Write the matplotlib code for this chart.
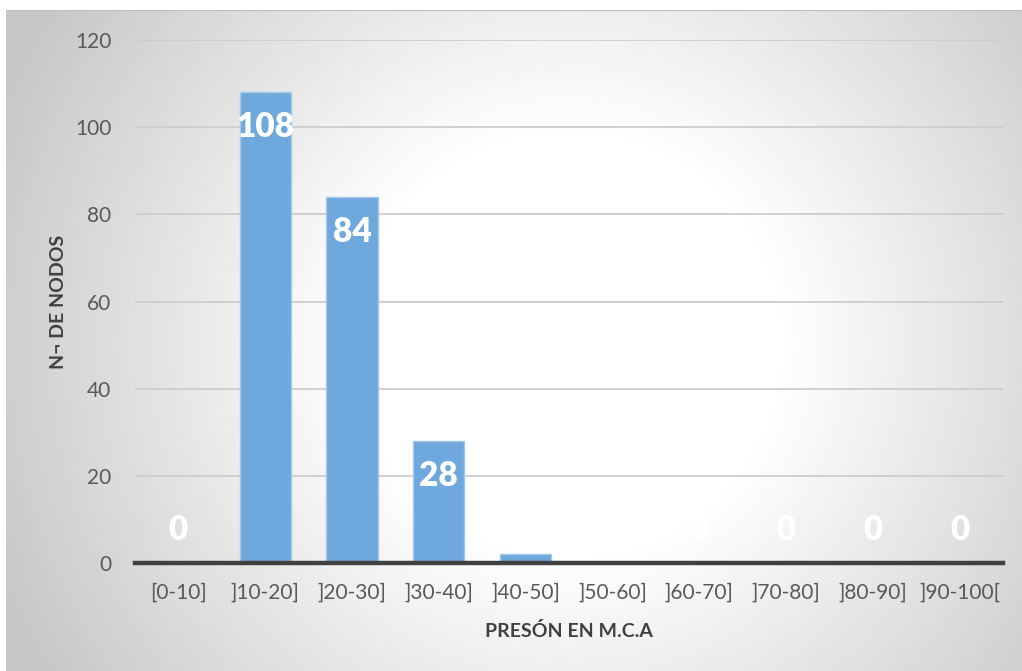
import numpy as np
import matplotlib
matplotlib.use("Agg")
import matplotlib.pyplot as plt

plt.rcParams['font.family'] = ['Lato', 'DejaVu Sans']

categories = ["[0-10]", "]10-20]", "]20-30]", "]30-40]", "]40-50]",
              "]50-60]", "]60-70]", "]70-80]", "]80-90]", "]90-100["]
nodos = [0, 108, 84, 28, 2, 0, 0, 0, 0, 0]
y_ticks = [0, 20, 40, 60, 80, 100, 120]

W, H = 1022, 671
fig = plt.figure(figsize=(W / 100, H / 100), dpi=100, facecolor="white")

# soft radial sheen behind the chart
bg = fig.add_axes([6 / W, 0, (W - 6) / W, (H - 10) / H])
bg.set_axis_off()
px = np.arange(6, W) + 0.5
py = np.arange(10, H) + 0.5
X, Y = np.meshgrid(px, py)
r = np.hypot(X - 568, Y - 345)
shade = 1 - 0.22 * np.clip((r - 208) / 410, 0, 1)
bg.imshow(shade, cmap="gray", vmin=0, vmax=1, aspect="auto",
          interpolation="bilinear", extent=[0, 1, 0, 1], origin="upper")
bg.set_xlim(0, 1)
bg.set_ylim(0, 1)
bg.axhline(1, color="#bdbdbd", lw=1.5)

ax = fig.add_axes([135 / W, 108 / H, (1003 - 135) / W, (563 - 40) / H])
ax.patch.set_alpha(0)
x = np.arange(len(categories))
ax.bar(x, nodos, width=0.59, color="#6fa8dc", edgecolor="#a4c8ea",
       linewidth=1, zorder=3)

ax.set_xlim(-0.5, len(categories) - 0.5)
ax.set_ylim(0, 120)
ax.set_yticks(y_ticks)
ax.set_xticks(x)
ax.set_xticklabels(categories)
ax.tick_params(axis="both", length=0, labelsize=15, colors="#595959")
ax.tick_params(axis="y", pad=17)
ax.tick_params(axis="x", pad=14)
for s in ax.spines.values():
    s.set_visible(False)
ax.yaxis.grid(True, color="#cdcdcd", lw=1.3, zorder=0)
ax.set_axisbelow(True)
ax.axhline(0, color="#404040", lw=3.2, zorder=4, clip_on=False)

px_per_unit = (563 - 40) / 120
for xi, v in zip(x, nodos):
    yc = max(v - 35 / px_per_unit, 33 / px_per_unit)
    ax.text(xi, yc, f"{v}", ha="center", va="center", color="white",
            fontsize=24, fontweight="heavy", zorder=5)

ax.set_xlabel("PRESÓN EN M.C.A", fontsize=14, fontweight="bold",
              color="#404040", labelpad=14)
ax.set_ylabel("N¬ DE NODOS", fontsize=14, fontweight="bold",
              color="#404040", labelpad=6)

fig.savefig("out.png", dpi=100, facecolor="white")
